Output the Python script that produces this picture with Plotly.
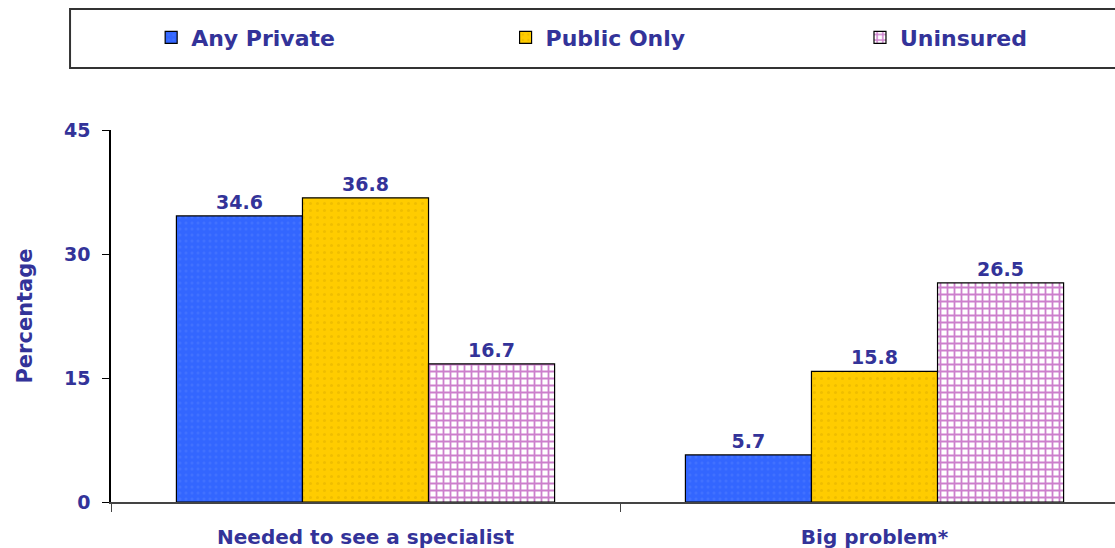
import plotly.graph_objects as go

categories = ["Needed to see a specialist", "Big problem*"]
any_private = [34.6, 5.7]
public_only = [36.8, 15.8]
uninsured = [16.7, 26.5]
y_ticks = [0, 15, 30, 45]

NAVY = "#333399"
FONT = "DejaVu Sans, Liberation Sans, sans-serif"

fig = go.Figure()

series = [
    ("Any Private", any_private, "#3366FF",
     dict(shape=".", fgcolor="#4f7cff", bgcolor="#3366FF", size=6, solidity=0.2), "legend", 0.040),
    ("Public Only", public_only, "#FFCC00",
     dict(shape=".", fgcolor="#e0b000", bgcolor="#FFCC00", size=7, solidity=0.15), "legend2", 0.393),
    ("Uninsured", uninsured, "#FFFFFF",
     dict(shape="+", fgcolor="#990099", bgcolor="#FFFFFF", size=7, solidity=0.45), "legend3", 0.746),
]

legend_style = dict(
    orientation="h",
    xanchor="left",
    y=1.2487, yanchor="middle",
    itemwidth=30,
    font=dict(family=FONT, size=22, color=NAVY, weight="bold"),
    bgcolor="rgba(0,0,0,0)",
    borderwidth=0,
)

legends = {}
for name, vals, color, pattern, legend_id, lx in series:
    fig.add_trace(go.Bar(
        name=name,
        x=categories,
        y=vals,
        legend=legend_id,
        marker=dict(color=color, pattern=pattern, line=dict(color="#000000", width=1.2)),
        text=[f"{v:.1f}" for v in vals],
        textposition="outside",
        textfont=dict(family=FONT, size=19, color=NAVY, weight="bold"),
        cliponaxis=False,
    ))
    legends[legend_id] = dict(legend_style, x=lx)

fig.update_layout(
    width=1115,
    height=548,
    margin=dict(l=111, r=0, t=130, b=46),
    paper_bgcolor="white",
    plot_bgcolor="white",
    barmode="group",
    bargap=0.257,
    bargroupgap=0,
    font=dict(family=FONT, color=NAVY),
    showlegend=True,
    shapes=[dict(
        type="rect", xref="paper", yref="paper",
        x0=-0.0408, x1=1.01, y0=1.167, y1=1.325,
        line=dict(color="#333333", width=2),
        fillcolor="rgba(0,0,0,0)",
    )],
    **legends,
)

fig.update_xaxes(
    type="category",
    range=[-0.5, 1.4725],
    showline=True, linecolor="#444444", linewidth=1.5,
    ticks="outside", tickson="boundaries", ticklen=8, tickcolor="#444444",
    ticklabelstandoff=16,
    tickfont=dict(family=FONT, size=20, color=NAVY, weight="bold"),
    showgrid=False, zeroline=False,
)

fig.update_yaxes(
    range=[0, 45],
    tickvals=y_ticks,
    showline=True, linecolor="#000000", linewidth=1.5,
    ticks="outside", ticklen=7, tickcolor="#000000",
    ticklabelstandoff=8,
    tickfont=dict(family=FONT, size=19, color=NAVY, weight="bold"),
    title=dict(text="Percentage", font=dict(family=FONT, size=21, color=NAVY, weight="bold"), standoff=26),
    showgrid=False, zeroline=False,
)

fig.write_html("out.html")
